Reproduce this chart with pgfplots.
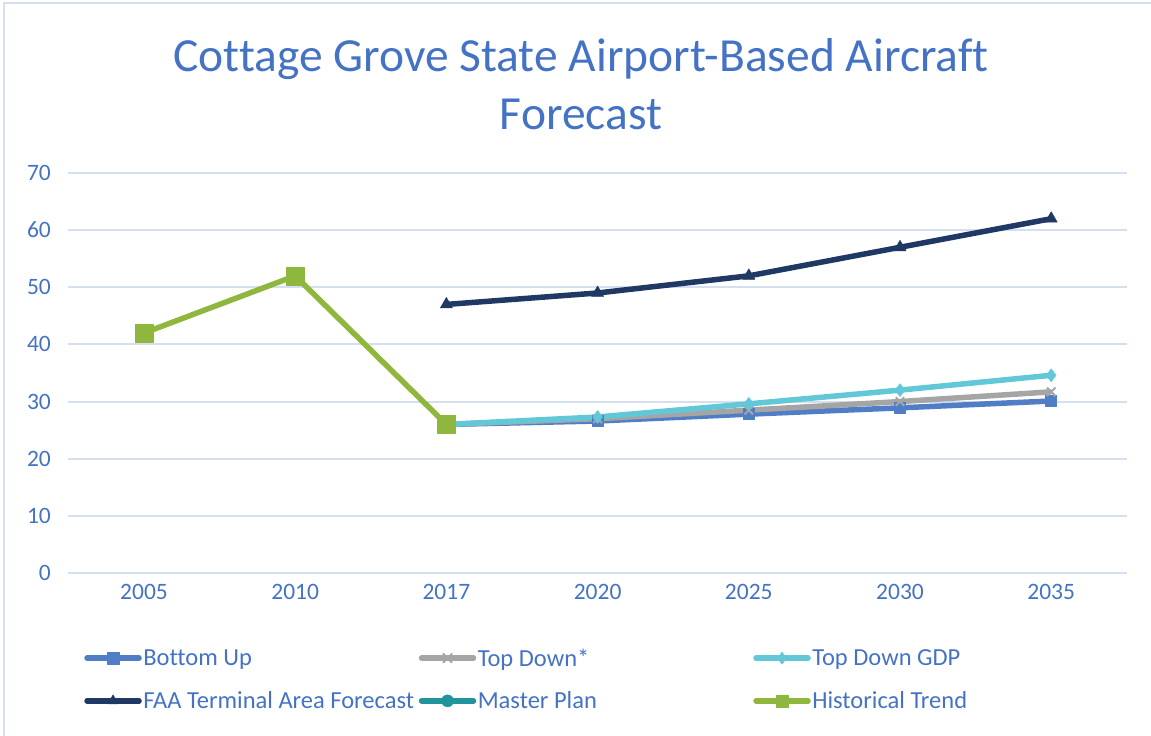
\documentclass[border=0pt]{standalone}
\usepackage{pgfplots}
\pgfplotsset{compat=1.18}
\usepackage{fontspec}
\setmainfont{Carlito}[Ligatures=NoCommon]
\definecolor{txt}{HTML}{4472C4}
\definecolor{gridc}{HTML}{D6DFF0}
\definecolor{cBU}{HTML}{4F7EC7}
\definecolor{cTD}{HTML}{A5A5A5}
\definecolor{cGDP}{HTML}{62C8D8}
\definecolor{cFAA}{HTML}{1F3864}
\definecolor{cMP}{HTML}{23949E}
\definecolor{cHT}{HTML}{8FB73E}
\begin{document}
\begin{tikzpicture}[x=1pt,y=1pt]
\useasboundingbox (0,0) rectangle (1151,736);
\draw[gridc, line width=2pt] (4,-10) -- (4,733) -- (1160,733);
\node[text=txt, font=\fontsize{47.5}{58}\selectfont, align=center, inner sep=0pt] at (581,736-84) {Cottage Grove State Airport-Based Aircraft\\Forecast};
\begin{axis}[
  at={(68.4pt,163pt)}, anchor=south west,
  scale only axis, width=1058.4pt, height=400pt,
  xmin=-0.5, xmax=6.5, ymin=0, ymax=70,
  xtick={0,...,6}, xticklabels={2005,2010,2017,2020,2025,2030,2035},
  ytick={0,10,...,70},
  ymajorgrids, grid style={gridc, line width=2pt},
  axis line style={draw=none},
  major tick length=0pt,
  /pgf/number format/assume math mode=true,
  tick label style={font=\fontsize{23.5}{28}\selectfont, text=txt},
  yticklabel style={xshift=-14pt},
  xticklabel style={yshift=-8pt},
  every axis plot/.append style={line width=5.5pt, line join=round},
  legend columns=3,
  legend cell align=left,
  legend style={at={(0.012,-0.18)}, anchor=north west, draw=none, fill=none,
    font=\fontsize{24.5}{29}\selectfont, text=txt, row sep=21pt, column sep=0pt,
    nodes={inner sep=1.5pt}},
  legend image code/.code={\draw[#1, mark size=6pt, line cap=round, mark repeat=2, mark phase=2] plot coordinates {(0pt,0pt) (26pt,0pt) (52pt,0pt)};},
]
\addplot[cBU, mark=square*, mark size=5.5pt, mark options={line width=0.5pt}] coordinates {(2,26) (3,26.6) (4,27.8) (5,28.9) (6,30.1)};
\addlegendentry{\makebox[274pt][l]{Bottom Up}}
\addplot[cTD, mark=x, mark size=6pt, mark options={line width=2pt}] coordinates {(2,26) (3,27.0) (4,28.5) (5,30.0) (6,31.7)};
\addlegendentry{\makebox[274pt][l]{Top Down*}}
\addplot[cGDP, mark=diamond*, mark size=6.5pt, mark options={line width=0.5pt}] coordinates {(2,26) (3,27.3) (4,29.6) (5,32.0) (6,34.6)};
\addlegendentry{\makebox[274pt][l]{Top Down GDP}}
\addplot[cFAA, mark=triangle*, mark size=7pt, mark options={line width=0.5pt}] coordinates {(2,47) (3,49) (4,52) (5,57) (6,62)};
\addlegendentry{\makebox[274pt][l]{FAA Terminal Area Forecast}}
\addlegendimage{cMP, line width=5.5pt, mark=*, mark options={line width=0.5pt}}
\addlegendentry{\makebox[274pt][l]{Master Plan}}
\addplot[cHT, mark=square*, mark size=9pt, mark options={line width=0.5pt}] coordinates {(0,42) (1,52) (2,26)};
\addlegendentry{\makebox[274pt][l]{Historical Trend}}
\end{axis}
\end{tikzpicture}
\end{document}
